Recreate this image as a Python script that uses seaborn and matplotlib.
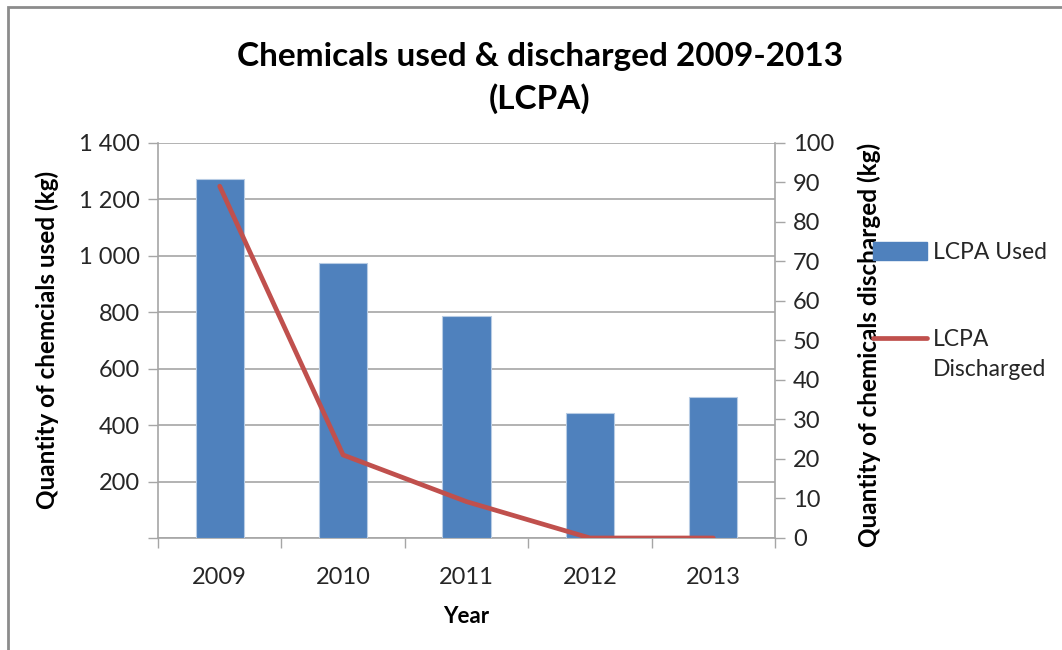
import matplotlib
matplotlib.use("Agg")
import matplotlib.pyplot as plt
import matplotlib.patches as mpatches
import matplotlib.lines as mlines
from matplotlib.ticker import FuncFormatter, MultipleLocator, FixedLocator
import numpy as np
import seaborn as sns

years = ["2009", "2010", "2011", "2012", "2013"]
lcpa_used = [1270, 975, 785, 444, 498]
lcpa_discharged = [89, 21, 9.2, 0, 0]

title = "Chemicals used & discharged 2009-2013\n(LCPA)"
xlabel = "Year"
ylabel_left = "Quantity of chemcials used (kg)"
ylabel_right = "Quantity of chemicals discharged (kg)"
label_used = "LCPA Used"
label_disc_1 = "LCPA"
label_disc_2 = "Discharged"

sns.set_theme(style="white")
plt.rcParams["font.family"] = ["Lato", "DejaVu Sans"]

BLUE = "#4F81BD"
RED = "#C0504D"
GRID = "#A6A6A6"
TXT = "#262626"

fig = plt.figure(figsize=(10.62, 6.5), dpi=100)
ax = fig.add_axes([158 / 1062, 1 - 538 / 650, (775 - 158) / 1062, (538 - 142.7) / 650])

sns.barplot(x=years, y=lcpa_used, ax=ax, color=BLUE, width=0.39,
            edgecolor="#B8CCE4", linewidth=0.8, saturation=1, zorder=3)
ax.set_xlim(-0.5, len(years) - 0.5)
ax.set_ylim(0, 1400)
ax.yaxis.set_major_locator(MultipleLocator(200))
ax.yaxis.set_major_formatter(FuncFormatter(
    lambda v, p: "" if v == 0 else f"{int(v):,}".replace(",", " ")))
ax.grid(axis="y", color=GRID, linewidth=1.2, zorder=0)
ax.grid(axis="x", visible=False)
ax.set_axisbelow(True)

# x ticks at category boundaries
ax.xaxis.set_minor_locator(FixedLocator(np.arange(-0.5, len(years), 1.0)))
ax.tick_params(axis="x", which="major", length=0, pad=21, labelsize=17, labelcolor=TXT)
ax.tick_params(axis="x", which="minor", length=7, width=1, color=GRID, direction="out", bottom=True)
ax.tick_params(axis="y", which="major", length=7, width=1, color=GRID, direction="out",
               left=True, labelsize=17, labelcolor=TXT, pad=6)

for s in ["top", "right"]:
    ax.spines[s].set_visible(False)
for s in ["left", "bottom"]:
    ax.spines[s].set_color(GRID)
    ax.spines[s].set_linewidth(1.2)

ax.set_xlabel(xlabel, fontsize=16, fontweight="bold", color="black", labelpad=13)
ax.set_ylabel(ylabel_left, fontsize=17.5, fontweight="bold", color="black")
ax.yaxis.set_label_coords((59 - 158) / 617, 0.5)

ax2 = ax.twinx()
sns.lineplot(x=np.arange(len(years)), y=lcpa_discharged, ax=ax2, color=RED,
             linewidth=3.4, zorder=4)
ax2.set_ylim(0, 100)
ax2.set_xlim(-0.5, len(years) - 0.5)
ax2.yaxis.set_major_locator(MultipleLocator(10))
ax2.tick_params(axis="y", which="major", length=7, width=1, color=GRID, direction="out",
                right=True, labelsize=17, labelcolor=TXT, pad=6)
for s in ["top", "left", "bottom"]:
    ax2.spines[s].set_visible(False)
ax2.spines["right"].set_color(GRID)
ax2.spines["right"].set_linewidth(1.2)
ax2.grid(False)
ax2.set_ylabel(ylabel_right, fontsize=17.5, fontweight="bold", color="black")
ax2.yaxis.set_label_coords((857 - 158) / 617, (538 - 345) / 395.3)

fig.text(540 / 1062, 1 - 78 / 650, title, ha="center", va="center",
         fontsize=24, fontweight="bold", color="black", linespacing=1.45)

h_used = mpatches.Patch(facecolor=BLUE, edgecolor=BLUE)
h_disc = mlines.Line2D([], [], color=RED, linewidth=3.4)
leg = fig.legend([h_used, h_disc], [label_used, label_disc_1],
                 loc="upper left", bbox_to_anchor=(873 / 1062, 1 - 242 / 650),
                 frameon=False, fontsize=16.5, handlelength=2.35, handleheight=0.8,
                 handletextpad=0.25, labelspacing=2.9, borderaxespad=0, borderpad=0)
for t in leg.get_texts():
    t.set_color(TXT)

fig.canvas.draw()
bb = leg.get_texts()[1].get_window_extent(fig.canvas.get_renderer())
fig.text(bb.x0, bb.y0 - 9, label_disc_2, transform=None, ha="left", va="top",
         fontsize=16.5, color=TXT)

# chart border (left and top edges visible)
fig.patches.append(mpatches.Rectangle((8 / 1062, -0.1), 1.2, 1.1 - 7 / 650,
                                      transform=fig.transFigure, fill=False,
                                      edgecolor="#8C8C8C", linewidth=2, zorder=0))

fig.savefig("out.png", dpi=100, facecolor="white")
